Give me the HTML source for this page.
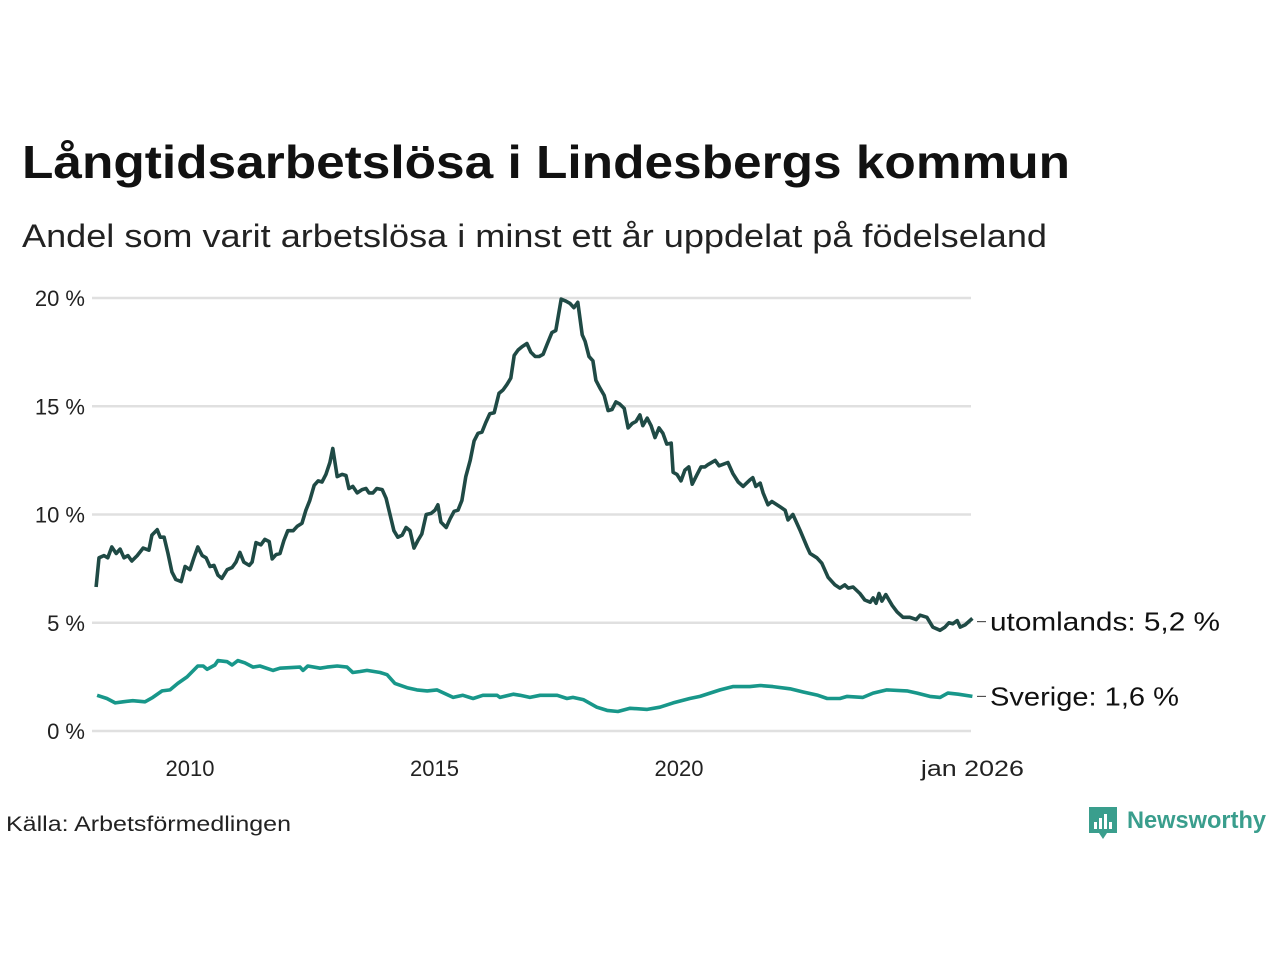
<!DOCTYPE html>
<html><head><meta charset="utf-8"><style>
html,body{margin:0;padding:0;background:#fff;}
svg{display:block;font-family:"Liberation Sans",sans-serif;}
</style></head><body>
<svg id="chart" width="1280" height="960" viewBox="0 0 1280 960" xmlns="http://www.w3.org/2000/svg">
<text x="22" y="178" font-size="46" font-weight="bold" fill="#111" textLength="1048" lengthAdjust="spacingAndGlyphs">Långtidsarbetslösa i Lindesbergs kommun</text>
<text x="22" y="247" font-size="32" fill="#222" textLength="1025" lengthAdjust="spacingAndGlyphs">Andel som varit arbetslösa i minst ett år uppdelat på födelseland</text>
<g id="grid"></g>
<g id="yticks"></g>
<g id="xticks"></g>
<g id="lines"></g>
<text x="6" y="831" font-size="21" fill="#222" textLength="285" lengthAdjust="spacingAndGlyphs">Källa: Arbetsförmedlingen</text>
<g>
<path d="M1089 807 h28 v26 h-10 l-4 6 l-4 -6 h-10 z" fill="#3a9e8d"/>
<rect x="1094" y="822" width="3" height="7" fill="#fff"/><rect x="1099" y="818" width="3" height="11" fill="#fff"/><rect x="1104" y="814" width="3" height="15" fill="#fff"/><rect x="1109" y="822" width="3" height="7" fill="#fff"/>
<text x="1127" y="828" font-size="24" font-weight="bold" fill="#3a9e8d" textLength="139" lengthAdjust="spacingAndGlyphs">Newsworthy</text>
</g>
</svg>
<script>
const yTicks=[0,5,10,15,20];
const yTickLabels=["0 %","5 %","10 %","15 %","20 %"];
const xTicks=[2010,2015,2020,2026];
const xTickLabels=["2010","2015","2020","jan 2026"];
const utDates=[2008.08,2008.14,2008.24,2008.32,2008.40,2008.49,2008.57,2008.65,2008.73,2008.81,2008.92,2009.04,2009.16,2009.22,2009.33,2009.39,2009.47,2009.55,2009.63,2009.71,2009.82,2009.90,2010.00,2010.08,2010.16,2010.25,2010.33,2010.41,2010.49,2010.57,2010.65,2010.76,2010.86,2010.94,2011.02,2011.10,2011.21,2011.27,2011.35,2011.45,2011.53,2011.62,2011.68,2011.76,2011.84,2011.92,2012.00,2012.11,2012.19,2012.29,2012.37,2012.45,2012.54,2012.62,2012.70,2012.78,2012.86,2012.92,2013.01,2013.11,2013.19,2013.25,2013.33,2013.42,2013.52,2013.60,2013.66,2013.74,2013.82,2013.93,2014.01,2014.09,2014.17,2014.25,2014.34,2014.42,2014.50,2014.58,2014.66,2014.74,2014.83,2014.93,2015.01,2015.07,2015.13,2015.24,2015.32,2015.40,2015.48,2015.56,2015.64,2015.73,2015.81,2015.89,2015.97,2016.05,2016.13,2016.22,2016.32,2016.40,2016.48,2016.56,2016.63,2016.71,2016.79,2016.89,2016.97,2017.06,2017.14,2017.22,2017.30,2017.40,2017.48,2017.59,2017.69,2017.77,2017.85,2017.93,2018.02,2018.08,2018.16,2018.24,2018.30,2018.38,2018.47,2018.55,2018.63,2018.71,2018.79,2018.88,2018.96,2019.04,2019.12,2019.20,2019.26,2019.35,2019.43,2019.51,2019.59,2019.67,2019.75,2019.84,2019.88,2019.96,2020.04,2020.12,2020.20,2020.27,2020.37,2020.45,2020.53,2020.59,2020.74,2020.82,2021.00,2021.10,2021.21,2021.31,2021.45,2021.51,2021.57,2021.66,2021.72,2021.82,2021.90,2022.07,2022.17,2022.23,2022.33,2022.47,2022.62,2022.68,2022.82,2022.92,2023.05,2023.19,2023.29,2023.39,2023.46,2023.56,2023.70,2023.80,2023.91,2023.97,2024.03,2024.09,2024.15,2024.23,2024.36,2024.46,2024.58,2024.72,2024.85,2024.93,2025.07,2025.19,2025.34,2025.44,2025.52,2025.60,2025.69,2025.75,2025.85,2026.00];
const utValues=[6.65,8.0,8.1,8.0,8.5,8.2,8.4,8.0,8.1,7.85,8.1,8.45,8.35,9.05,9.3,8.95,8.95,8.2,7.35,7.0,6.9,7.6,7.45,8.0,8.5,8.1,8.0,7.6,7.65,7.2,7.05,7.45,7.55,7.8,8.25,7.8,7.65,7.8,8.7,8.6,8.85,8.75,7.95,8.15,8.2,8.8,9.25,9.25,9.45,9.6,10.2,10.65,11.35,11.55,11.5,11.85,12.4,13.05,11.75,11.85,11.8,11.2,11.3,11.0,11.15,11.2,11.0,11.0,11.2,11.15,10.75,10.0,9.25,8.95,9.05,9.4,9.25,8.45,8.8,9.1,10.0,10.05,10.2,10.45,9.65,9.4,9.8,10.15,10.2,10.65,11.75,12.5,13.4,13.75,13.8,14.25,14.65,14.7,15.6,15.75,16.0,16.3,17.35,17.6,17.75,17.9,17.5,17.3,17.3,17.4,17.85,18.4,18.5,19.95,19.85,19.75,19.55,19.8,18.3,18.0,17.3,17.1,16.2,15.85,15.5,14.8,14.85,15.2,15.1,14.9,14.0,14.2,14.3,14.6,14.1,14.45,14.1,13.55,14.0,13.75,13.25,13.3,11.95,11.85,11.55,12.05,12.2,11.4,11.85,12.2,12.2,12.3,12.5,12.25,12.4,11.9,11.5,11.3,11.6,11.7,11.3,11.45,11.0,10.45,10.6,10.35,10.2,9.75,10.0,9.3,8.5,8.2,8.0,7.75,7.1,6.75,6.6,6.75,6.6,6.65,6.35,6.05,5.95,6.15,5.9,6.35,6.0,6.3,5.8,5.5,5.25,5.25,5.15,5.35,5.25,4.8,4.65,4.8,5.0,4.95,5.1,4.8,4.9,5.2];
const seDates=[2008.10,2008.30,2008.47,2008.63,2008.83,2009.08,2009.24,2009.43,2009.59,2009.75,2009.94,2010.16,2010.27,2010.35,2010.51,2010.57,2010.76,2010.86,2010.98,2011.12,2011.29,2011.43,2011.70,2011.84,2012.25,2012.31,2012.41,2012.66,2012.80,2013.01,2013.21,2013.33,2013.48,2013.62,2013.89,2014.03,2014.19,2014.44,2014.64,2014.85,2015.05,2015.38,2015.58,2015.79,2015.99,2016.28,2016.34,2016.61,2016.75,2016.95,2017.16,2017.51,2017.71,2017.83,2018.04,2018.32,2018.53,2018.75,2019.00,2019.35,2019.61,2019.88,2020.22,2020.43,2020.84,2021.10,2021.45,2021.66,2021.92,2022.27,2022.54,2022.84,2023.03,2023.29,2023.44,2023.76,2023.97,2024.25,2024.66,2024.87,2025.13,2025.34,2025.50,2025.71,2026.00];
const seValues=[1.65,1.5,1.3,1.35,1.4,1.35,1.55,1.85,1.9,2.2,2.5,3.0,3.0,2.85,3.05,3.25,3.2,3.05,3.25,3.15,2.95,3.0,2.8,2.9,2.95,2.8,3.0,2.9,2.95,3.0,2.95,2.7,2.75,2.8,2.7,2.6,2.2,2.0,1.9,1.85,1.9,1.55,1.65,1.5,1.65,1.65,1.55,1.7,1.65,1.55,1.65,1.65,1.5,1.55,1.45,1.1,0.95,0.9,1.05,1.0,1.1,1.3,1.5,1.6,1.9,2.05,2.05,2.1,2.05,1.95,1.8,1.65,1.5,1.5,1.6,1.55,1.75,1.9,1.85,1.75,1.6,1.55,1.75,1.7,1.6];
const NS="http://www.w3.org/2000/svg";
function xScale(yr){return 190+(yr-2010)*48.9;}
function yScale(v){return 731-v*21.65;}
function mk(tag,attrs,parent){const e=document.createElementNS(NS,tag);for(const k in attrs)e.setAttribute(k,attrs[k]);parent.appendChild(e);return e;}
const grid=document.getElementById('grid'),yt=document.getElementById('yticks'),xt=document.getElementById('xticks'),lines=document.getElementById('lines');
yTicks.forEach((v,i)=>{
  const l=mk('line',{x1:92,x2:971,y1:yScale(v),y2:yScale(v),stroke:'#e0e0e0','stroke-width':2.5},grid);
  
  
  const t=mk('text',{x:85,y:yScale(v)+8,'text-anchor':'end','font-size':22,fill:'#222'},yt);
  
  
  t.textContent=yTickLabels[i];
});
xTicks.forEach((v,i)=>{
  const attrs={x:xScale(v),y:776,'text-anchor':'middle','font-size':22,fill:'#222'};
  if(xTickLabels[i].length>5){attrs.textLength=103;attrs.lengthAdjust='spacingAndGlyphs';}
  const t=mk('text',attrs,xt);
  
  
  t.textContent=xTickLabels[i];
});
function drawLine(dates,vals,color,name){
  const d=dates.map((yr,i)=>(i?'L':'M')+xScale(yr).toFixed(1)+' '+yScale(vals[i]).toFixed(1)).join(' ');
  const p=mk('path',{d:d,fill:'none',stroke:color,'stroke-width':3.6,'stroke-linejoin':'round'},lines);
  
  
}
drawLine(seDates,seValues,'#18978a','line-sverige');
drawLine(utDates,utValues,'#1f4a45','line-utomlands');
function label(v,txt,name,w){
  const y=yScale(v);
  mk('line',{x1:977,x2:986,y1:y,y2:y,stroke:'#333','stroke-width':1},lines);
  const t=mk('text',{x:990,y:y+9,'font-size':26,fill:'#111',textLength:w,lengthAdjust:'spacingAndGlyphs'},lines);
  
  
  t.textContent=txt;
}
label(utValues[utValues.length-1]-0.15,'utomlands: 5,2 %','label-utomlands',230);
label(seValues[seValues.length-1],'Sverige: 1,6 %','label-sverige',189);
</script>
</body></html>
